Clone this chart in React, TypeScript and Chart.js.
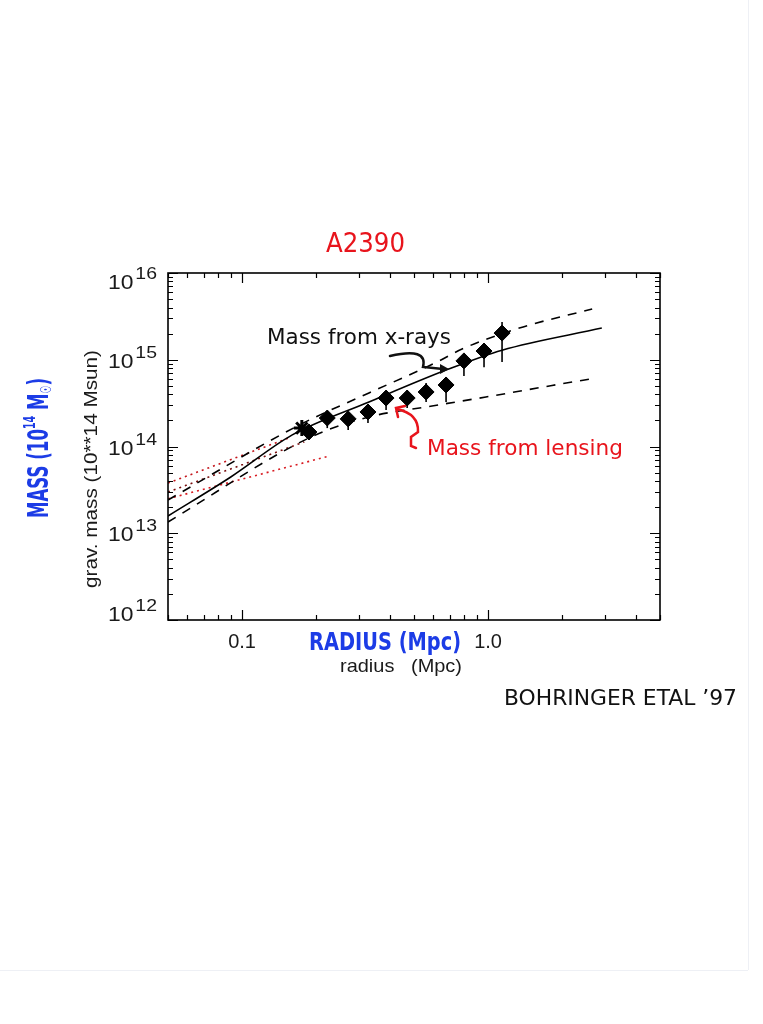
import React, { useEffect, useRef } from 'react';
import { Chart, registerables } from 'chart.js';
Chart.register(...registerables);

// ---- axis ranges ----
const radiusRange = [0.05, 5];
const massRange = [1e12, 1e16];
const xTickValues = [0.1, 1];
const xTickLabels = ['0.1', '1.0'];
const yTickValues = [1e12, 1e13, 1e14, 1e15, 1e16];
const yTickExponents = ['12', '13', '14', '15', '16'];

// ---- lensing / data points (diamonds with error bars) ----
const pointRadiusMpc = [0.187, 0.222, 0.270, 0.325, 0.385, 0.469, 0.560, 0.675, 0.798, 0.963, 1.14];
const pointMass = [1.47e14, 2.13e14, 2.08e14, 2.50e14, 3.62e14, 3.62e14, 4.25e14, 5.12e14, 9.7e14, 1.26e15, 2.03e15];
const pointMassHigh = [1.72e14, 2.5e14, 2.5e14, 3.0e14, 4.37e14, 4.48e14, 5.4e14, 6.3e14, 1.13e15, 1.56e15, 2.72e15];
const pointMassLow = [1.19e14, 1.63e14, 1.55e14, 1.87e14, 2.64e14, 2.78e14, 3.26e14, 3.26e14, 6.5e14, 8.2e14, 9.4e14];
const starRadiusMpc = [0.175];
const starMass = [1.63e14];

// ---- X-ray mass profile (solid) and its envelope (dashed) ----
const xrayRadius = [0.05, 0.09, 0.16, 0.328, 0.675, 1.14, 2.9];
const xrayMass = [1.58e13, 4.45e13, 1.36e14, 3.26e14, 7.6e14, 1.29e15, 2.32e15];
const upperRadius = [0.05, 0.171, 0.328, 0.621, 0.784, 1.34, 2.65];
const upperMass = [2.42e13, 1.77e14, 4.14e14, 9.42e14, 1.33e15, 2.32e15, 3.85e15];
const lowerRadius = [0.05, 0.191, 0.328, 0.592, 0.98, 1.82, 2.75];
const lowerMass = [1.35e13, 1.29e14, 2.19e14, 2.93e14, 3.72e14, 5.05e14, 6.17e14];

// ---- dotted inner models ----
const dotARadius = [0.05, 0.159];
const dotAMass = [3.79e13, 1.29e14];
const dotBRadius = [0.05, 0.179];
const dotBMass = [2.99e13, 1.13e14];
const dotCRadius = [0.05, 0.226];
const dotCMass = [2.5e13, 7.76e13];

const FONT = '"Liberation Sans", Arial, sans-serif';
const HAND = '"DejaVu Sans", sans-serif';

type Seg = { t: string; size: number; dy?: number; weight?: string };

function drawRich(
  ctx: CanvasRenderingContext2D,
  segs: Seg[],
  family: string,
  color: string,
  x: number,
  y: number,
  width: number | null,
  rotate = false,
) {
  ctx.save();
  ctx.fillStyle = color;
  ctx.textBaseline = 'alphabetic';
  ctx.textAlign = 'left';
  const fontOf = (s: Seg) => `${s.weight || 'normal'} ${s.size}px ${family}`;
  const widths = segs.map((s) => {
    ctx.font = fontOf(s);
    return ctx.measureText(s.t).width;
  });
  const total = widths.reduce((a, b) => a + b, 0);
  const sc = width ? width / total : 1;
  ctx.translate(x, y);
  if (rotate) ctx.rotate(-Math.PI / 2);
  ctx.scale(sc, 1);
  let cx = 0;
  segs.forEach((s, i) => {
    ctx.font = fontOf(s);
    ctx.fillText(s.t, cx, s.dy || 0);
    cx += widths[i];
  });
  ctx.restore();
}

const decor = {
  id: 'decor',
  beforeDatasetsDraw(chart: any) {
    const { ctx } = chart;
    const xs = chart.scales.x;
    const ys = chart.scales.y;
    ctx.save();
    ctx.strokeStyle = '#000';
    ctx.lineWidth = 1.6;
    pointRadiusMpc.forEach((r, i) => {
      const px = xs.getPixelForValue(r);
      ctx.beginPath();
      ctx.moveTo(px, ys.getPixelForValue(pointMassHigh[i]));
      ctx.lineTo(px, ys.getPixelForValue(pointMassLow[i]));
      ctx.stroke();
    });
    ctx.restore();
  },
  afterDatasetsDraw(chart: any) {
    const { ctx, chartArea } = chart;
    const { left, right, top, bottom } = chartArea;
    const xs = chart.scales.x;
    const ys = chart.scales.y;
    ctx.save();

    // faint scan edges
    ctx.strokeStyle = '#eef0f5';
    ctx.lineWidth = 1;
    ctx.beginPath();
    ctx.moveTo(748.5, 0);
    ctx.lineTo(748.5, 970);
    ctx.moveTo(0, 970.5);
    ctx.lineTo(748, 970.5);
    ctx.stroke();

    // frame
    ctx.strokeStyle = '#000';
    ctx.lineWidth = 1.6;
    ctx.strokeRect(left, top, right - left, bottom - top);

    // ticks (inward, all four sides)
    ctx.lineWidth = 1.2;
    ctx.beginPath();
    for (let e = 12; e < 16; e++) {
      for (let k = 1; k <= 10; k++) {
        const v = k * Math.pow(10, e);
        const py = Math.round(ys.getPixelForValue(v)) + 0.5;
        const len = k === 1 || k === 10 ? 10 : 5;
        ctx.moveTo(left, py);
        ctx.lineTo(left + len, py);
        ctx.moveTo(right, py);
        ctx.lineTo(right - len, py);
      }
    }
    const xMinor: number[] = [];
    for (let e = -2; e <= 0; e++) {
      for (let k = 1; k <= 9; k++) {
        const v = k * Math.pow(10, e);
        if (v >= radiusRange[0] - 1e-9 && v <= radiusRange[1] + 1e-9) xMinor.push(v);
      }
    }
    xMinor.forEach((v) => {
      const px = Math.round(xs.getPixelForValue(v)) + 0.5;
      const major = Math.abs(Math.log10(v) - Math.round(Math.log10(v))) < 1e-6;
      const len = major ? 10 : 5;
      ctx.moveTo(px, bottom);
      ctx.lineTo(px, bottom - len);
      ctx.moveTo(px, top);
      ctx.lineTo(px, top + len);
    });
    ctx.stroke();

    // y tick labels 10^n
    yTickValues.forEach((v, i) => {
      const ty = ys.getPixelForValue(v);
      const center = Math.min(Math.max(ty + 1, top + 9), bottom - 6);
      drawRich(
        ctx,
        [
          { t: '10', size: 20 },
          { t: ' ', size: 6 },
          { t: yTickExponents[i], size: 17, dy: -10 },
        ],
        FONT,
        '#1a1a1a',
        left - 60,
        center + 7,
        49,
      );
    });

    // x tick labels
    ctx.fillStyle = '#1a1a1a';
    ctx.font = `20px ${FONT}`;
    ctx.textAlign = 'center';
    ctx.textBaseline = 'alphabetic';
    xTickValues.forEach((v, i) => {
      ctx.fillText(xTickLabels[i], xs.getPixelForValue(v), 648);
    });

    // axis titles (printed)
    drawRich(ctx, [{ t: 'radius   (Mpc)', size: 19 }], FONT, '#1a1a1a', 340, 672, 122);
    drawRich(ctx, [{ t: 'grav. mass (10**14 Msun)', size: 19 }], FONT, '#1a1a1a', 97, 588, 238, true);

    // handwritten annotations
    drawRich(ctx, [{ t: 'A2390', size: 26 }], HAND, '#e8141c', 326, 252, 79);
    drawRich(ctx, [{ t: 'Mass from x-rays', size: 22 }], HAND, '#111', 267, 344, 184);
    drawRich(ctx, [{ t: 'Mass from lensing', size: 22 }], HAND, '#e8141c', 427, 455, 196);
    drawRich(ctx, [{ t: 'RADIUS (Mpc)', size: 24, weight: 'bold' }], HAND, '#1c3ce6', 309, 650, 152);
    drawRich(ctx, [{ t: 'BOHRINGER ETAL \u201997', size: 22 }], HAND, '#111', 504, 705, 233);
    drawRich(
      ctx,
      [
        { t: 'MASS (10', size: 28, weight: 'bold' },
        { t: '14', size: 16, dy: -13, weight: 'bold' },
        { t: ' M', size: 28, weight: 'bold' },
        { t: '\u2609', size: 15, dy: 3, weight: 'bold' },
        { t: ')', size: 28, weight: 'bold' },
      ],
      HAND,
      '#1c3ce6',
      48,
      518,
      140,
      true,
    );

    // x-ray arrow
    ctx.strokeStyle = '#111';
    ctx.fillStyle = '#111';
    ctx.lineWidth = 2.5;
    ctx.lineCap = 'round';
    ctx.beginPath();
    ctx.moveTo(390, 356);
    ctx.quadraticCurveTo(428, 347, 423, 367);
    ctx.lineTo(443, 369);
    ctx.stroke();
    ctx.beginPath();
    ctx.moveTo(449, 369);
    ctx.lineTo(440, 364);
    ctx.lineTo(440, 374);
    ctx.closePath();
    ctx.fill();

    // lensing arrow
    ctx.strokeStyle = '#e8141c';
    ctx.lineWidth = 2.5;
    ctx.beginPath();
    ctx.moveTo(397, 409);
    ctx.quadraticCurveTo(419, 414, 418, 432);
    ctx.lineTo(411, 437);
    ctx.lineTo(411, 446);
    ctx.lineTo(416, 448);
    ctx.stroke();
    ctx.beginPath();
    ctx.moveTo(398, 417);
    ctx.lineTo(396, 408);
    ctx.lineTo(405, 406);
    ctx.stroke();

    ctx.restore();
  },
};

export default function App() {
  const ref = useRef<HTMLCanvasElement>(null);
  useEffect(() => {
    const canvas = ref.current!;
    const toPts = (xs: number[], ys: number[]) => xs.map((x, i) => ({ x, y: ys[i] }));
    const lineDs = (label: string, xs: number[], ys: number[], color: string, dash: number[], width: number) => ({
      label,
      data: toPts(xs, ys),
      showLine: true,
      borderColor: color,
      backgroundColor: color,
      borderWidth: width,
      borderDash: dash,
      pointRadius: 0,
      fill: false,
      cubicInterpolationMode: 'monotone' as const,
    });
    const chart = new Chart(canvas, {
      type: 'scatter',
      data: {
        datasets: [
          {
            label: 'lensing',
            data: toPts(pointRadiusMpc, pointMass),
            pointStyle: 'rectRot',
            pointRadius: 8,
            backgroundColor: '#000',
            borderColor: '#000',
            borderWidth: 1,
            showLine: false,
          },
          {
            label: 'centre',
            data: toPts(starRadiusMpc, starMass),
            pointStyle: 'star',
            pointRadius: 8,
            backgroundColor: '#000',
            borderColor: '#000',
            borderWidth: 3,
            showLine: false,
          },
          lineDs('x-ray mass', xrayRadius, xrayMass, '#000', [], 1.6),
          lineDs('upper', upperRadius, upperMass, '#000', [9, 8], 1.6),
          lineDs('lower', lowerRadius, lowerMass, '#000', [9, 8], 1.6),
          lineDs('dotA', dotARadius, dotAMass, '#c4161c', [2, 4], 1.6),
          lineDs('dotB', dotBRadius, dotBMass, '#7a1010', [2, 4], 1.6),
          lineDs('dotC', dotCRadius, dotCMass, '#d81a20', [2, 4], 1.6),
        ] as any,
      },
      options: {
        animation: false,
        responsive: false,
        devicePixelRatio: 1,
        events: [],
        layout: { padding: { left: 168, top: 273, right: 103, bottom: 404 } },
        plugins: { legend: { display: false }, tooltip: { enabled: false } },
        scales: {
          x: { type: 'logarithmic', min: radiusRange[0], max: radiusRange[1], display: false },
          y: { type: 'logarithmic', min: massRange[0], max: massRange[1], display: false },
        },
      } as any,
      plugins: [decor],
    });
    return () => chart.destroy();
  }, []);
  return (
    <div style={{ position: 'absolute', left: 0, top: 0, width: 763, height: 1024, background: '#fff' }}>
      <canvas ref={ref} width={763} height={1024} style={{ display: 'block' }} />
    </div>
  );
}
